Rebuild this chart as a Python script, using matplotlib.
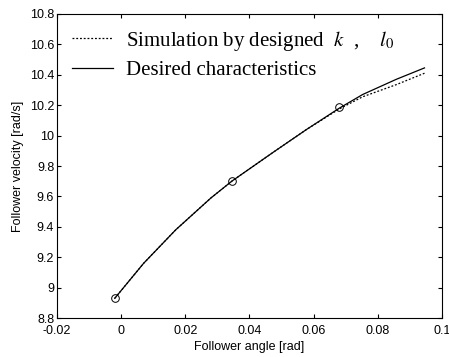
import numpy as np
import matplotlib
matplotlib.use('Agg')
import matplotlib.pyplot as plt

# desired characteristics (solid)
angle = [-0.002, 0.007, 0.017, 0.028, 0.0345, 0.0474, 0.0578, 0.068, 0.0753, 0.0858, 0.0946]
vel_desired = [8.93, 9.16, 9.38, 9.59, 9.70, 9.89, 10.04, 10.18, 10.27, 10.37, 10.445]
# simulation by designed k, l0 (dotted)
vel_sim = [8.93, 9.16, 9.38, 9.59, 9.70, 9.89, 10.04, 10.175, 10.255, 10.335, 10.41]
# design points (circles)
pt_angle = [-0.002, 0.0345, 0.068]
pt_vel = [8.93, 9.70, 10.185]

xticks = [-0.02, 0, 0.02, 0.04, 0.06, 0.08, 0.1]
xticklabels = ['-0.02', '0', '0.02', '0.04', '0.06', '0.08', '0.1']
yticks = [8.8, 9.0, 9.2, 9.4, 9.6, 9.8, 10.0, 10.2, 10.4, 10.6, 10.8]
yticklabels = ['8.8', '9', '9.2', '9.4', '9.6', '9.8', '10', '10.2', '10.4', '10.6', '10.8']

plt.rcParams['font.family'] = ['Liberation Sans', 'DejaVu Sans']
plt.rcParams['mathtext.fontset'] = 'stix'

fig = plt.figure(figsize=(4.49, 3.57), dpi=100)
ax = fig.add_axes([0.127, 0.109, 0.857, 0.852])

ax.plot(angle, vel_sim, color='black', linestyle=(0, (1.5, 1.5)), linewidth=0.9,
        label=r'Simulation by designed  $k$  ,    $l_0$')
ax.plot(angle, vel_desired, color='black', linestyle='-', linewidth=0.9,
        label='Desired characteristics')
ax.plot(pt_angle, pt_vel, linestyle='none', marker='o', markersize=5.5,
        markerfacecolor='none', markeredgecolor='black', markeredgewidth=0.7)

ax.set_xlim(-0.02, 0.1)
ax.set_ylim(8.8, 10.8)
ax.set_xticks(xticks)
ax.set_xticklabels(xticklabels)
ax.set_yticks(yticks)
ax.set_yticklabels(yticklabels)
ax.tick_params(direction='in', top=True, right=True, labelsize=9, length=3, pad=2)
ax.tick_params(axis='x', pad=5)
ax.set_xlabel('Follower angle [rad]', fontsize=9, labelpad=3)
ax.set_ylabel('Follower velocity [rad/s]', fontsize=9, labelpad=4)

ax.legend(loc='upper left', frameon=False, prop={'family': 'Liberation Serif', 'size': 15},
          handlelength=2.0, handletextpad=0.6, borderaxespad=0.3, labelspacing=0.4)

fig.savefig('out.png', dpi=100)
